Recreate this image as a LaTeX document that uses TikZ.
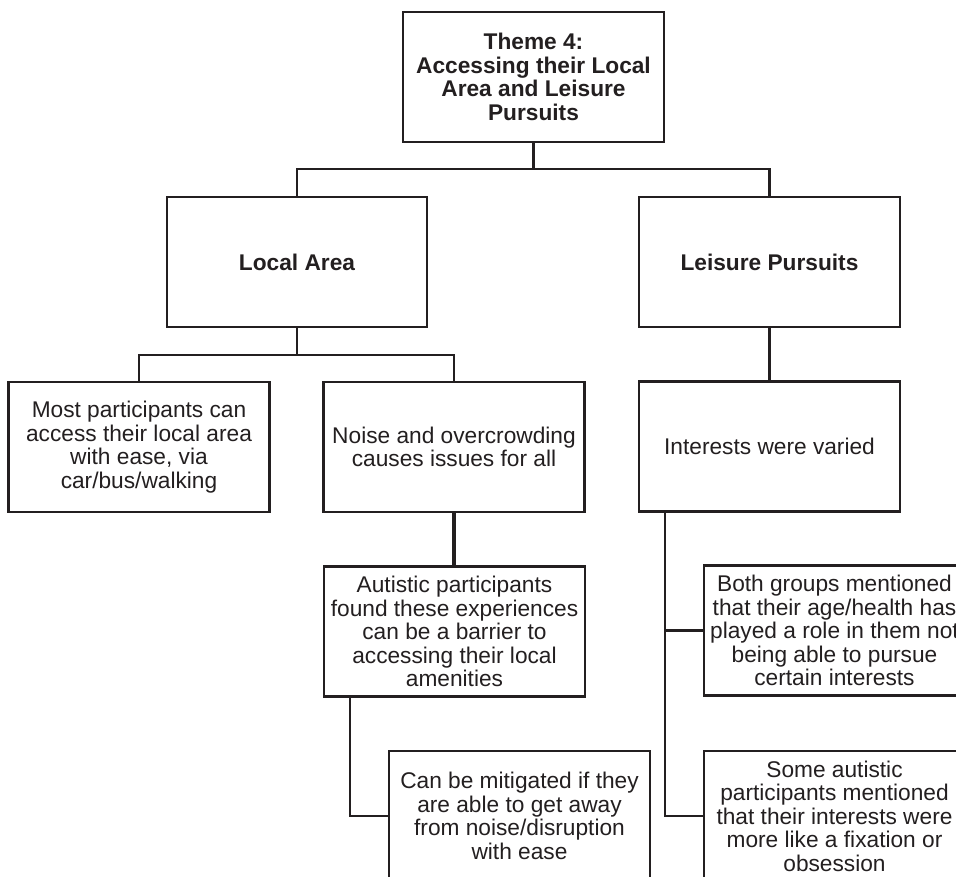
\documentclass[tikz,border=0pt]{standalone}
\usepackage{fontspec}
\setmainfont{Liberation Sans}
\usetikzlibrary{calc}
\definecolor{ink}{HTML}{231F20}
\tikzset{
  box/.style={draw=ink, line width=2.4pt, rectangle, minimum width=261pt,
    minimum height=130pt, inner sep=0pt, align=center, text=ink,
    font=\fontsize{22.7}{23.5}\selectfont},
  boldbox/.style={box, font=\fontsize{22.7}{23.5}\selectfont\bfseries},
  link/.style={draw=ink, line width=2.4pt},
  thicklink/.style={draw=ink, line width=3.4pt}
}
\begin{document}
\begin{tikzpicture}[x=1pt, y=-1pt]
  \useasboundingbox (0,0) rectangle (956,877);
  \clip (0,0) rectangle (956,877);
  \fill[white] (0,0) rectangle (956,877);

  % theme and its two sub-themes
  \node[boldbox] (top) at (533.5,77) {Theme 4:\\Accessing their Local\\Area and Leisure\\Pursuits};
  \node[boldbox, minimum width=260pt] (local) at (297,262) {Local Area};
  \node[boldbox] (leisure) at (769.5,262) {Leisure Pursuits};

  % findings under each sub-theme
  \node[box] (most) at (139,447) {Most participants can\\access their local area\\with ease, via\\car/bus/walking};
  \node[box] (noise) at (454,447) {Noise and overcrowding\\causes issues for all};
  \node[box] (interests) at (769.5,446.5) {Interests were varied};
  \node[box] (autistic) at (454.5,631.5) {Autistic participants\\found these experiences\\can be a barrier to\\accessing their local\\amenities};
  \node[box] (mitigate) at (519.5,816) {Can be mitigated if they\\are able to get away\\from noise/disruption\\with ease};
  \node[box] (both) at (834.5,630.5) {Both groups mentioned\\that their age/health has\\played a role in them not\\being able to pursue\\certain interests};
  \node[box] (some) at (834.5,816) {Some autistic\\participants mentioned\\that their interests were\\more like a fixation or\\obsession};

  % junctions
  \coordinate (j1) at (top.south |- 0,169);
  \coordinate (j2) at (local.south |- 0,355);
  \coordinate (s1) at ([xshift=27pt]autistic.south west);
  \coordinate (s2) at ([xshift=27pt]interests.south west);

  % connectors
  \draw[link] (top.south) -- (j1);
  \draw[link] (local.north) |- (j1) -| (leisure.north);
  \draw[link] (local.south) -- (j2);
  \draw[link] (most.north) |- (j2) -| (noise.north);
  \draw[thicklink] (leisure.south) -- (interests.north);
  \draw[thicklink] (noise.south) -- (noise.south |- autistic.north);
  \draw[link] (s1) |- (mitigate.west);
  \draw[link] (s2) |- (some.west);
  \draw[link] (both.west) -- (both.west -| s2);
\end{tikzpicture}
\end{document}
